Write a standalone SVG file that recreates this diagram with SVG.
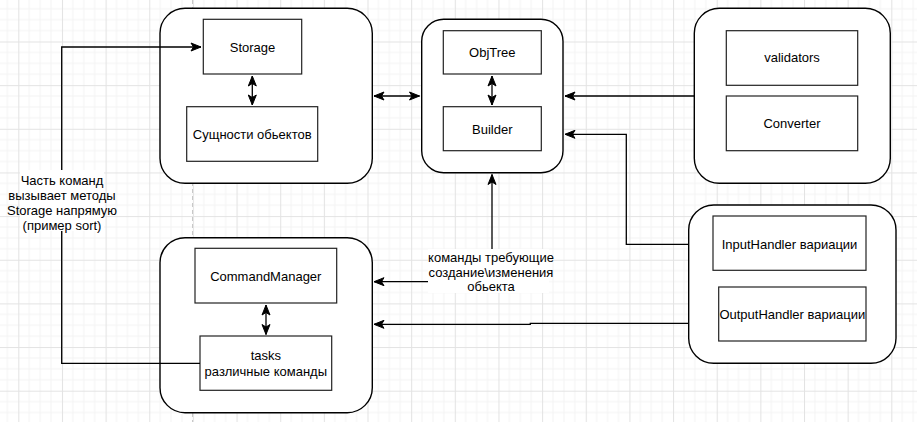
<svg xmlns="http://www.w3.org/2000/svg" width="917" height="422" viewBox="0 0 917 422">
<style>
.grp{fill:#fff;stroke:#000;stroke-width:1.4}
.box{fill:#fff;stroke:#222;stroke-width:1.2}
.t{font-family:"Liberation Sans",Arial,sans-serif;font-size:13px;fill:#000;text-anchor:middle}
.c{fill:none;stroke:#000;stroke-width:1.3}
</style>
<defs>
<pattern id="grid" patternUnits="userSpaceOnUse" x="18.3" y="41.5" width="43.65" height="43.65">
<rect width="43.65" height="43.65" fill="#fff"/>
<path d="M10.91,0V43.65M21.82,0V43.65M32.74,0V43.65M0,10.91H43.65M0,21.82H43.65M0,32.74H43.65" stroke="#f4f4f4" stroke-width="1"/>
<path d="M0.5,0V43.65M0,0.5H43.65" stroke="#e3e3e3" stroke-width="1"/>
</pattern>
<marker id="a" markerUnits="userSpaceOnUse" markerWidth="12" markerHeight="10" viewBox="0 0 12 10" refX="11" refY="5" orient="auto-start-reverse">
<path d="M1,1 L11,5 L1,9 L3.5,5 Z" fill="#000" stroke="#000" stroke-width="1"/>
</marker>
</defs>
<rect width="917" height="422" fill="url(#grid)"/>
<line x1="192.5" y1="0" x2="192.5" y2="422" stroke="#c8c8c8" stroke-width="1" stroke-dasharray="4 3"/>

<g id="storage-group">
<rect class="grp" x="160" y="8.3" width="212.3" height="175" rx="25" ry="25"/>
</g>
<g id="storage">
<rect class="box" x="203.3" y="19.3" width="98.4" height="54.7"/>
<text class="t" x="252.5" y="51.5">Storage</text>
</g>
<g id="entities">
<rect class="box" x="186.7" y="106.7" width="131" height="54.6"/>
<text class="t" x="252.2" y="138.5">Сущности обьектов</text>
</g>

<g id="objtree-group">
<rect class="grp" x="421.7" y="19.3" width="141.3" height="153.4" rx="22" ry="22"/>
</g>
<g id="objtree">
<rect class="box" x="443.3" y="30.7" width="98" height="43.3"/>
<text class="t" x="492.3" y="57">ObjTree</text>
</g>
<g id="builder">
<rect class="box" x="443.3" y="106.7" width="98" height="44"/>
<text class="t" x="492.3" y="133.5">Builder</text>
</g>

<g id="validators-group">
<rect class="grp" x="694.3" y="8.3" width="196" height="175" rx="25" ry="25"/>
</g>
<g id="validators">
<rect class="box" x="726.3" y="30.7" width="131.4" height="54.6"/>
<text class="t" x="792" y="62">validators</text>
</g>
<g id="converter">
<rect class="box" x="726.3" y="96" width="131.4" height="54.7"/>
<text class="t" x="792" y="128">Converter</text>
</g>

<g id="commands-group">
<rect class="grp" x="160" y="237.7" width="212.3" height="175" rx="25" ry="25"/>
</g>
<g id="commandmanager">
<rect class="box" x="195" y="248.3" width="141.7" height="54.7"/>
<text class="t" x="265.8" y="280.5">CommandManager</text>
</g>
<g id="tasks">
<rect class="box" x="200" y="336" width="131.7" height="54.3"/>
<text class="t" x="265.8" y="360">tasks</text>
<text class="t" x="265.8" y="376">различные команды</text>
</g>

<g id="handlers-group">
<rect class="grp" x="688.7" y="205" width="207.3" height="158.3" rx="25" ry="25"/>
</g>
<g id="inputhandler">
<rect class="box" x="713" y="216" width="153" height="54.3"/>
<text class="t" x="789.5" y="248.5">InputHandler вариации</text>
</g>
<g id="outputhandler">
<rect class="box" x="718.7" y="287" width="147.3" height="54"/>
<text class="t" x="792.3" y="319">OutputHandler вариации</text>
</g>

<g id="connectors">
<path class="c" d="M200,363.3 H61.7 V47 H201" marker-end="url(#a)"/>
<line class="c" x1="252.3" y1="76" x2="252.3" y2="105" marker-start="url(#a)" marker-end="url(#a)"/>
<line class="c" x1="374" y1="96" x2="419.5" y2="96" marker-start="url(#a)" marker-end="url(#a)"/>
<line class="c" x1="492" y1="76" x2="492" y2="105" marker-start="url(#a)" marker-end="url(#a)"/>
<line class="c" x1="694.3" y1="96" x2="565" y2="96" marker-end="url(#a)"/>
<path class="c" d="M688.7,244.3 H626.3 V134.3 H565" marker-end="url(#a)"/>
<line class="c" x1="266" y1="305" x2="266" y2="334.5" marker-start="url(#a)" marker-end="url(#a)"/>
<line class="c" x1="492" y1="250" x2="492" y2="174.5" marker-end="url(#a)"/>
<line class="c" x1="428" y1="281.7" x2="374" y2="281.7" marker-end="url(#a)"/>
<path class="c" d="M688.7,323.3 H530.3 V324.3 H374" marker-end="url(#a)"/>
</g>

<g id="label-storage">
<rect x="20" y="170" width="84" height="61" fill="#fff"/>
<text class="t" x="62" y="184.5">Часть команд</text>
<text class="t" x="62" y="199.5">вызывает методы</text>
<text class="t" x="62" y="214.5">Storage напрямую</text>
<text class="t" x="62" y="229.5">(пример sort)</text>
</g>
<g id="label-builder">
<rect x="428" y="249" width="121" height="44" fill="#fff"/>
<text class="t" x="491" y="261.5">команды требующие</text>
<text class="t" x="491" y="276.5">создание\изменения</text>
<text class="t" x="491" y="291">обьекта</text>
</g>
</svg>
